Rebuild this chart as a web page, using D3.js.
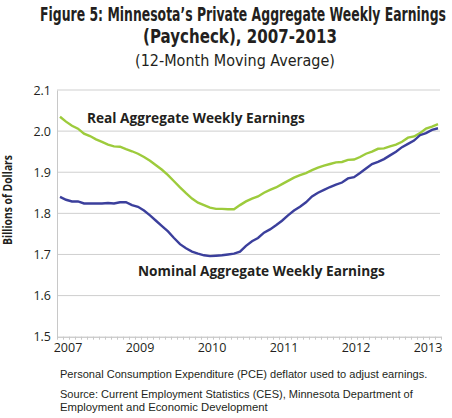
<!DOCTYPE html>
<html>
<head>
<meta charset="utf-8">
<script src="https://cdn.jsdelivr.net/npm/d3@7"></script>
<style>
  body { margin: 0; background: #fff; }
  svg { display: block; }
</style>
</head>
<body>
<script>
// ---- Data (12-month moving average, billions of dollars), monthly points ----
const realEarnings = [
  2.035, 2.023, 2.013, 2.006, 1.994, 1.988, 1.980, 1.974, 1.967, 1.963,
  1.962, 1.956, 1.951, 1.945, 1.937, 1.928, 1.917, 1.906, 1.893, 1.878,
  1.863, 1.849, 1.836, 1.826, 1.820, 1.814, 1.811, 1.811, 1.810, 1.810,
  1.820, 1.829, 1.836, 1.841, 1.850, 1.857, 1.863, 1.871, 1.879, 1.887,
  1.893, 1.898, 1.905, 1.911, 1.916, 1.920, 1.924, 1.925, 1.930, 1.931,
  1.937, 1.945, 1.950, 1.957, 1.958, 1.963, 1.967, 1.974, 1.984, 1.987,
  1.995, 2.006, 2.011, 2.017
];
const nominalEarnings = [
  1.840, 1.833, 1.829, 1.829, 1.824, 1.824, 1.824, 1.824, 1.825, 1.824,
  1.827, 1.827, 1.820, 1.816, 1.807, 1.795, 1.782, 1.769, 1.756, 1.740,
  1.725, 1.715, 1.707, 1.702, 1.698, 1.696, 1.697, 1.698, 1.700, 1.702,
  1.707, 1.721, 1.732, 1.740, 1.753, 1.761, 1.771, 1.782, 1.795, 1.807,
  1.816, 1.827, 1.841, 1.850, 1.857, 1.864, 1.870, 1.875, 1.885, 1.888,
  1.898, 1.909, 1.920, 1.925, 1.932, 1.941, 1.950, 1.961, 1.969, 1.977,
  1.990, 1.995, 2.003, 2.007
];
const xTickLabels = ["2007", "2009", "2010", "2011", "2012", "2013"];
const xTickIndex = [1, 13, 25, 37, 49, 61];
const yTicks = [1.5, 1.6, 1.7, 1.8, 1.9, 2.0, 2.1];

const W = 452, H = 418;
const svg = d3.select("body").append("svg").attr("width", W).attr("height", H);

const x = d3.scaleLinear().domain([-0.5, realEarnings.length - 0.5]).range([57, 441]);
const y = d3.scaleLinear().domain([1.5, 2.1]).range([336.7, 90]);

const FONT = "'Open Sans', 'Noto Sans', sans-serif";
const COND = "'Liberation Sans Narrow', 'DejaVu Sans Condensed', 'Open Sans', sans-serif";
const NOTEFONT = "'Liberation Sans', Arial, sans-serif";

// Text fitted horizontally to a target width via a scale transform
function fitText(parent, opts) {
  const t = parent.append("text")
    .attr("x", 0).attr("y", 0)
    .attr("text-anchor", opts.anchor || "start")
    .attr("font-family", opts.font).attr("font-size", opts.size)
    .attr("font-weight", opts.weight || "normal")
    .attr("fill", "#231f20")
    .text(opts.text);
  const n = t.node().getComputedTextLength();
  const s = opts.width / n;
  const rot = opts.rotate ? ` rotate(${opts.rotate})` : "";
  t.attr("transform", `translate(${opts.x},${opts.y})${rot} scale(${s},1)`);
  return t;
}

// Title
fitText(svg, {x: 243, y: 21, anchor: "middle", font: COND, weight: "bold", size: 20, width: 406,
  text: "Figure 5: Minnesota’s Private Aggregate Weekly Earnings"});
fitText(svg, {x: 240, y: 43, anchor: "middle", font: COND, weight: "bold", size: 20, width: 194,
  text: "(Paycheck), 2007-2013"});
fitText(svg, {x: 235, y: 66, anchor: "middle", font: COND, size: 16, width: 200,
  text: "(12-Month Moving Average)"});

// Gridlines
svg.append("g").selectAll("line").data(yTicks.filter(d => d > 1.5)).join("line")
  .attr("x1", 57).attr("x2", 440)
  .attr("y1", d => y(d)).attr("y2", d => y(d))
  .attr("stroke", "#cfcfcf").attr("stroke-width", 1);

// Y axis
const yAxis = d3.axisLeft(y).tickValues(yTicks).tickFormat(d3.format(".1f")).tickSize(0).tickPadding(6);
const gy = svg.append("g").attr("transform", "translate(57,0)").call(yAxis);
gy.select(".domain").attr("stroke", "#c8c8c8");
gy.selectAll("text").attr("font-family", FONT).attr("font-size", 12.5).attr("fill", "#231f20");

// X axis: monthly minor ticks + year labels
const monthBounds = d3.range(realEarnings.length + 1).map(i => i - 0.5);
const gx = svg.append("g").attr("transform", `translate(0,${y(1.5)})`);
gx.call(d3.axisBottom(x).tickValues(monthBounds).tickFormat("").tickSize(3).tickSizeOuter(0));
gx.select(".domain").attr("stroke", "#b8b8b8");
gx.selectAll(".tick line").attr("stroke", "#c8c8c8");
svg.append("g").selectAll("text").data(xTickIndex).join("text")
  .attr("x", d => x(d) + 2).attr("y", 352)
  .attr("text-anchor", "middle").attr("font-family", FONT).attr("font-size", 12.5)
  .attr("fill", "#231f20")
  .text((d, i) => xTickLabels[i]);

// Y axis title
fitText(svg, {x: 12, y: 200, rotate: -90, anchor: "middle", font: FONT, weight: "bold", size: 11.5, width: 90,
  text: "Billions of Dollars"});

// Lines
const line = d3.line().x((d, i) => x(i)).y(d => y(d));
svg.append("path").datum(realEarnings).attr("d", line)
  .attr("fill", "none").attr("stroke", "#9dcb3c").attr("stroke-width", 2.4);
svg.append("path").datum(nominalEarnings).attr("d", line)
  .attr("fill", "none").attr("stroke", "#3b3f9c").attr("stroke-width", 2.4);

// Series annotations
fitText(svg, {x: 87, y: 123, font: FONT, weight: "bold", size: 14.5, width: 218,
  text: "Real Aggregate Weekly Earnings"});
fitText(svg, {x: 138, y: 276, font: FONT, weight: "bold", size: 14.5, width: 247,
  text: "Nominal Aggregate Weekly Earnings"});

// Footnotes
const notes = [
  {t: "Personal Consumption Expenditure (PCE) deflator used to adjust earnings.", y: 378, w: 368},
  {t: "Source: Current Employment Statistics (CES), Minnesota Department of", y: 398, w: 353},
  {t: "Employment and Economic Development", y: 411, w: 208}
];
notes.forEach(d => fitText(svg, {x: 60, y: d.y, font: NOTEFONT, size: 11, width: d.w, text: d.t}));
</script>
</body>
</html>
